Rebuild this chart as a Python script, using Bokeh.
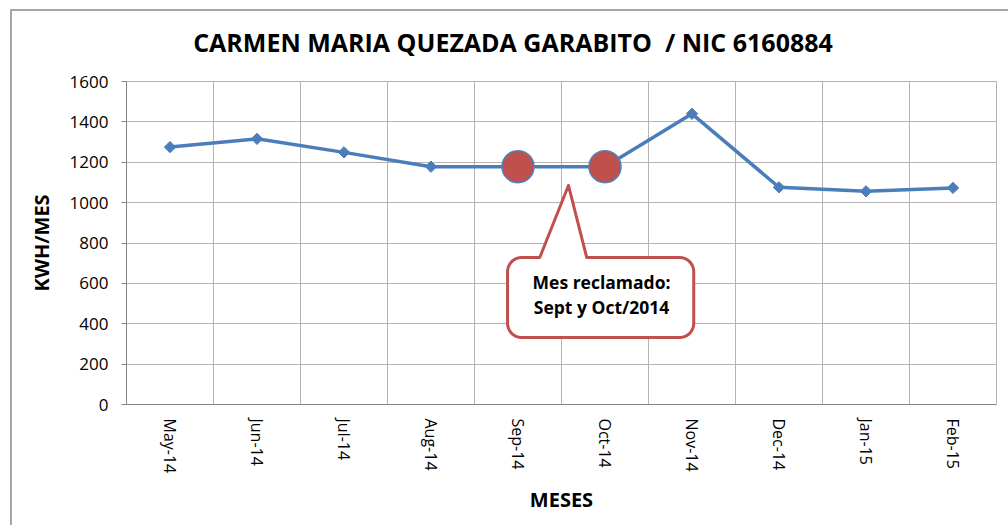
import numpy as np
from bokeh.plotting import figure
from bokeh.models import FactorRange, Range1d, FixedTicker, Div
from bokeh.layouts import column
from bokeh.core.properties import value
from bokeh.embed import file_html
from bokeh.resources import INLINE

# ---- data ----
months = ["May-14", "Jun-14", "Jul-14", "Aug-14", "Sep-14", "Oct-14",
          "Nov-14", "Dec-14", "Jan-15", "Feb-15"]
kwh = [1275, 1316, 1249, 1178, 1178, 1178, 1440, 1076, 1056, 1073]
claimed_months = ["Sep-14", "Oct-14"]
claimed_kwh = [1178, 1178]
y_ticks = [0, 200, 400, 600, 800, 1000, 1200, 1400, 1600]
title_text = "CARMEN MARIA QUEZADA GARABITO  / NIC 6160884"
callout_lines = ["Mes reclamado:", "Sept y Oct/2014"]

FONT = "Open Sans"
BLUE = "#4A7EBB"
RED = "#C0504D"
GRID = "#B4B4B4"
AXIS = "#868686"

title_div = Div(text=title_text, width=996, height=50, margin=0,
                styles={"font-family": FONT, "font-weight": "bold",
                        "font-size": "25px", "color": "black",
                        "text-align": "center", "line-height": "62px",
                        "white-space": "pre", "text-indent": "6px",
                        "background-color": "white"})

p = figure(x_range=FactorRange(factors=months), y_range=Range1d(0, 1600),
           width=996, height=464, output_backend="svg", toolbar_location=None,
           min_border_left=114, min_border_right=12, min_border_top=20,
           min_border_bottom=121, background_fill_color="white",
           border_fill_color="white")
p.margin = 0
p.outline_line_color = GRID
p.outline_line_width = 1

# grids: vertical lines on category boundaries
p.xgrid.ticker = FixedTicker(ticks=list(range(1, len(months))))
p.xgrid.grid_line_color = GRID
p.ygrid.grid_line_color = GRID
p.ygrid.ticker = FixedTicker(ticks=y_ticks)

# axes
p.yaxis.ticker = FixedTicker(ticks=y_ticks)
for ax in (p.xaxis[0], p.yaxis[0]):
    ax.axis_line_color = AXIS
    ax.major_tick_line_color = AXIS
    ax.minor_tick_line_color = None
    ax.major_label_text_font = FONT
    ax.major_label_text_font_size = "16px"
    ax.major_label_text_color = "black"
    ax.axis_label_text_font = FONT
    ax.axis_label_text_font_style = "bold"
    ax.axis_label_text_font_size = "20px"
    ax.axis_label_text_color = "black"
p.yaxis.major_label_text_font_size = "17px"
p.yaxis.major_tick_in = 0
p.yaxis.major_tick_out = 5
p.yaxis.major_label_standoff = 13
p.yaxis.axis_label = "KWH/MES"
p.yaxis.axis_label_standoff = 12
p.xaxis.major_tick_in = 0
p.xaxis.major_tick_out = 0
p.xaxis.major_label_orientation = "vertical"
p.xaxis.major_label_standoff = 14
p.xaxis.axis_label = "MESES"
p.xaxis.axis_label_standoff = 10

# series
p.line(months, kwh, line_color=BLUE, line_width=3.5)
p.scatter(months, kwh, marker="square", angle=np.pi / 4, size=8,
          fill_color=BLUE, line_color=BLUE, line_width=1)
p.scatter(claimed_months, claimed_kwh, marker="circle", size=32,
          fill_color=RED, line_color="#4F81BD", line_width=1.5)

# ---- callout (annotation shape, in axis units) ----
bx0, bx1, by0, by1 = 4.38, 6.52, 332, 728
tipx, tipy = 5.08, 1085
basel, baser = 4.75, 5.29
rx, ry = 0.16, 70


def arc(cx, cy, a0, a1, n=10):
    t = np.linspace(a0, a1, n)
    return list(cx + rx * np.cos(t)), list(cy + ry * np.sin(t))


xs, ys = [], []
xs += [bx0 + rx, basel, tipx, baser]
ys += [by1, by1, tipy, by1]
ax_, ay_ = arc(bx1 - rx, by1 - ry, np.pi / 2, 0)
xs += ax_; ys += ay_
ax_, ay_ = arc(bx1 - rx, by0 + ry, 0, -np.pi / 2)
xs += ax_; ys += ay_
ax_, ay_ = arc(bx0 + rx, by0 + ry, -np.pi / 2, -np.pi)
xs += ax_; ys += ay_
ax_, ay_ = arc(bx0 + rx, by1 - ry, np.pi, np.pi / 2)
xs += ax_; ys += ay_
p.patch(xs, ys, fill_color="white", line_color=RED, line_width=3,
        line_join="round")
p.text(x=[5.46, 5.46], y=[606, 482], text=callout_lines,
       text_font=value(FONT), text_font_style="bold", text_font_size="17.5px",
       text_align="center", text_baseline="middle", text_color="black")

layout = column(title_div, p, spacing=0, margin=(9, 0, 0, 10),
                styles={"border-top": "2px solid #A6A6A6",
                        "border-left": "2px solid #A6A6A6",
                        "background-color": "white"})

open("out.html", "w").write(file_html(layout, INLINE))
